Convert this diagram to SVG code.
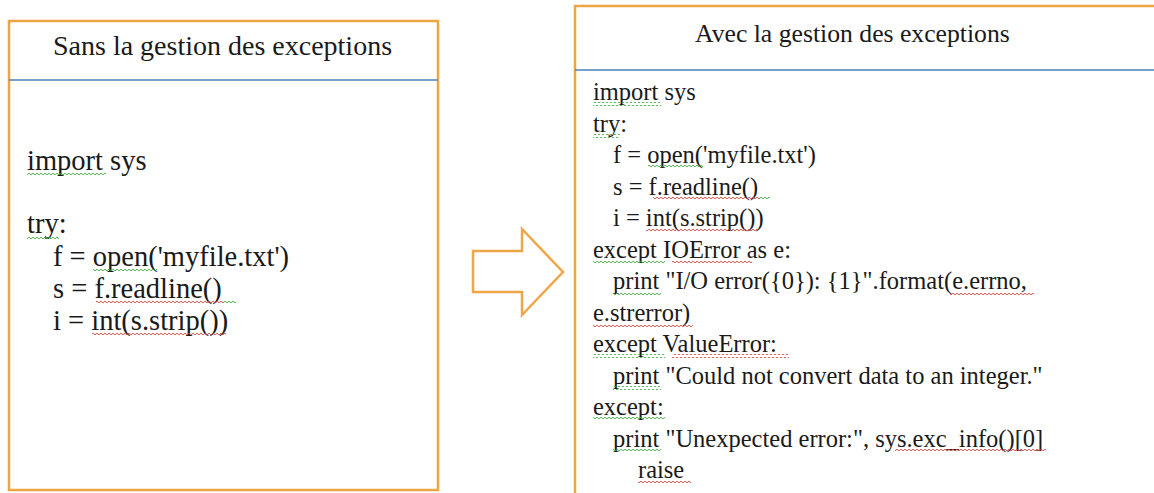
<svg xmlns="http://www.w3.org/2000/svg" width="1154" height="493" viewBox="0 0 1154 493">
  <style>
    .box { fill: #ffffff; stroke: #EDA443; stroke-width: 2.5; }
    .sep { stroke: #4A82BA; stroke-width: 1.6; }
    text { font-family: 'Liberation Serif', 'Times New Roman', serif; fill: #1a1a1a; }
    .t1 { font-size: 28px; }
    .c1 { font-size: 28.5px; }
    .t2 { font-size: 25.7px; }
    .c2 { font-size: 24.5px; }
    .arrow { fill: #ffffff; stroke: #EFA646; stroke-width: 2.5; stroke-linejoin: miter; }
    .wg { fill: url(#wavyG); }
    .wr { fill: url(#wavyR); }
  </style>
  <defs>
    <pattern id="wavyG" width="4" height="4" patternUnits="userSpaceOnUse">
      <path d="M0,2 Q1,0.5 2,2 T4,2" fill="none" stroke="#3DA63D" stroke-width="0.9"/>
    </pattern>
    <pattern id="wavyR" width="4" height="4" patternUnits="userSpaceOnUse">
      <path d="M0,2 Q1,0.5 2,2 T4,2" fill="none" stroke="#D0403A" stroke-width="0.9"/>
    </pattern>
  </defs>
  <rect width="1154" height="493" fill="#ffffff"/>
  <g id="node-sans">
    <rect class="box" x="9" y="21" width="429" height="469"/>
    <line class="sep" x1="9" y1="80" x2="438" y2="80"/>
    <text class="t1" x="53" y="55">Sans la gestion des exceptions</text>
    <text class="c1" x="27" y="170">import sys</text>
    <text class="c1" x="27" y="233">try:</text>
    <text class="c1" x="53" y="266">f = open('myfile.txt')</text>
    <text class="c1" x="53" y="298">s = f.readline()</text>
    <text class="c1" x="53" y="330">i = int(s.strip())</text>
    <rect class="wg" x="27" y="172" width="79" height="4"/>
    <rect class="wg" x="27" y="236" width="32" height="4"/>
    <rect class="wg" x="93" y="268" width="64" height="4"/>
    <rect class="wr" x="96" y="300" width="128" height="4"/>
    <rect class="wg" x="224" y="300" width="12" height="4"/>
    <rect class="wr" x="92" y="332" width="134" height="4"/>
  </g>
  <g id="node-avec">
    <rect class="box" x="575" y="6" width="600" height="500"/>
    <line class="sep" x1="575" y1="70" x2="1154" y2="70"/>
    <text class="t2" x="695" y="42">Avec la gestion des exceptions</text>
    <text class="c2" x="593" y="100">import sys</text>
    <text class="c2" x="593" y="131.5">try:</text>
    <text class="c2" x="613" y="163">f = open('myfile.txt')</text>
    <text class="c2" x="613" y="194.5">s = f.readline()</text>
    <text class="c2" x="613" y="226">i = int(s.strip())</text>
    <text class="c2" x="593" y="257.5">except IOError as e:</text>
    <text class="c2" x="613" y="289">print "I/O error({0}): {1}".format(e.errno,</text>
    <text class="c2" x="593" y="320.5">e.strerror)</text>
    <text class="c2" x="593" y="352">except ValueError:</text>
    <text class="c2" x="613" y="383.5">print "Could not convert data to an integer."</text>
    <text class="c2" x="593" y="415">except:</text>
    <text class="c2" x="613" y="446.5">print "Unexpected error:", sys.exc_info()[0]</text>
    <text class="c2" x="638" y="478">raise</text>
    <rect class="wg" x="593" y="102" width="68" height="4"/>
    <rect class="wg" x="593" y="134" width="27" height="4"/>
    <rect class="wg" x="648" y="165" width="55" height="4"/>
    <rect class="wr" x="653" y="197" width="107" height="4"/>
    <rect class="wg" x="760" y="197" width="10" height="4"/>
    <rect class="wr" x="646" y="228" width="112" height="4"/>
    <rect class="wg" x="593" y="260" width="72" height="4"/>
    <rect class="wr" x="672" y="260" width="80" height="4"/>
    <rect class="wg" x="613" y="291" width="48" height="4"/>
    <rect class="wr" x="950" y="291" width="84" height="4"/>
    <rect class="wr" x="593" y="323" width="100" height="4"/>
    <rect class="wg" x="593" y="354" width="72" height="4"/>
    <rect class="wr" x="672" y="354" width="117" height="4"/>
    <rect class="wg" x="613" y="386" width="48" height="4"/>
    <rect class="wg" x="593" y="417" width="72" height="4"/>
    <rect class="wg" x="613" y="449" width="48" height="4"/>
    <rect class="wr" x="895" y="449" width="151" height="4"/>
    <rect class="wr" x="638" y="480" width="53" height="4"/>
  </g>
  <g id="connectors">
    <polygon class="arrow" points="473,251 522,251 522,229 563,272 522,315 522,292 473,292"/>
  </g>
</svg>
